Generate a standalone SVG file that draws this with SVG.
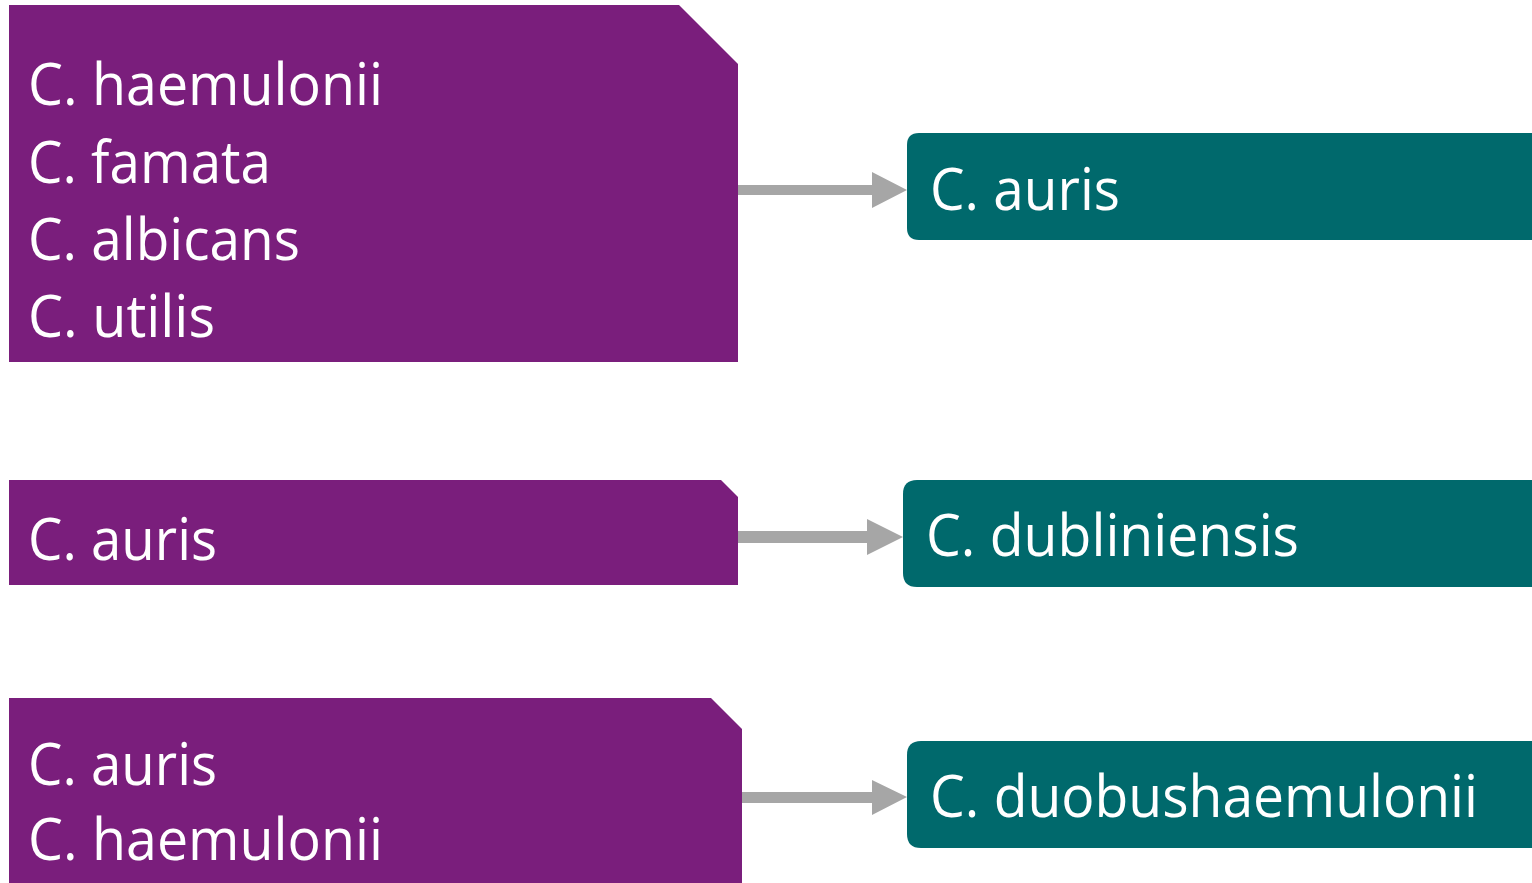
<svg xmlns="http://www.w3.org/2000/svg" width="1532" height="883" viewBox="0 0 1532 883">
<style>
.src{fill:#7A1E7C}
.dst{fill:#00696C}
.t{fill:#FFFFFF;font-family:"Open Sans","Noto Sans","Liberation Sans",sans-serif;font-size:59px}
.arr{fill:#A6A6A6}
</style>
<rect width="1532" height="883" fill="#FFFFFF"/>
<g id="connectors">
<path class="arr" d="M738,185 H872 V172 L907,190 L872,208 V195 H738 Z"/>
<path class="arr" d="M738,531 H867 V519 L903,537 L867,555 V543 H738 Z"/>
<path class="arr" d="M742,792 H872 V780 L907,797 L872,815 V803 H742 Z"/>
</g>
<g id="node-src1">
<path class="src" d="M9,5 H679 L738,64 V362 H9 Z"/>
<text class="t" x="28" y="105" textLength="355" lengthAdjust="spacingAndGlyphs">C. haemulonii</text>
<text class="t" x="28" y="183" textLength="243" lengthAdjust="spacingAndGlyphs">C. famata</text>
<text class="t" x="28" y="260" textLength="272" lengthAdjust="spacingAndGlyphs">C. albicans</text>
<text class="t" x="28" y="337" textLength="187" lengthAdjust="spacingAndGlyphs">C. utilis</text>
</g>
<g id="node-dst1">
<path class="dst" d="M919,133 H1540 V240 H919 Q907,240 907,228 V145 Q907,133 919,133 Z"/>
<text class="t" x="930" y="210" textLength="190" lengthAdjust="spacingAndGlyphs">C. auris</text>
</g>
<g id="node-src2">
<path class="src" d="M9,480 H721 L738,497 V585 H9 Z"/>
<text class="t" x="28" y="560" textLength="189" lengthAdjust="spacingAndGlyphs">C. auris</text>
</g>
<g id="node-dst2">
<path class="dst" d="M917,480 H1540 V587 H917 Q903,587 903,573 V494 Q903,480 917,480 Z"/>
<text class="t" x="926" y="556" textLength="373" lengthAdjust="spacingAndGlyphs">C. dubliniensis</text>
</g>
<g id="node-src3">
<path class="src" d="M9,698 H711 L742,729 V890 H9 Z"/>
<text class="t" x="28" y="785" textLength="189" lengthAdjust="spacingAndGlyphs">C. auris</text>
<text class="t" x="28" y="860" textLength="355" lengthAdjust="spacingAndGlyphs">C. haemulonii</text>
</g>
<g id="node-dst3">
<path class="dst" d="M921,741 H1540 V848 H921 Q907,848 907,834 V755 Q907,741 921,741 Z"/>
<text class="t" x="930" y="817" textLength="548" lengthAdjust="spacingAndGlyphs">C. duobushaemulonii</text>
</g>
</svg>
